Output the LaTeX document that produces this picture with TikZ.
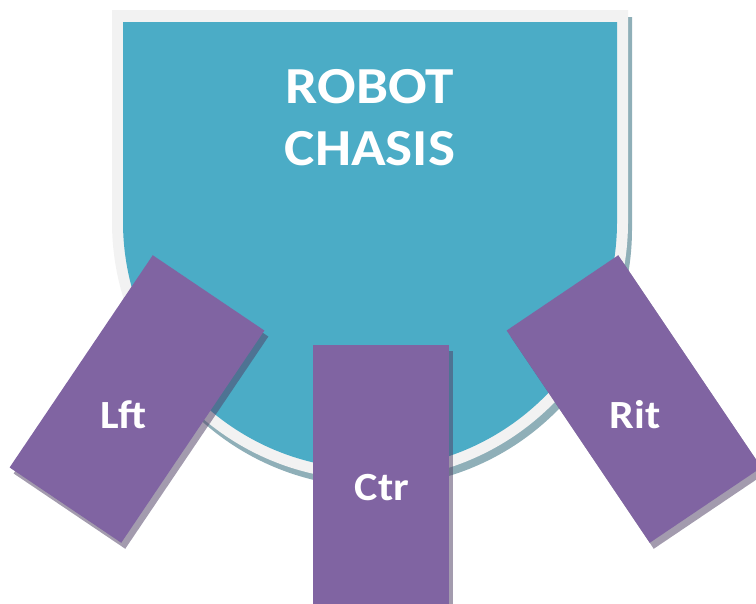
\documentclass[tikz,border=0pt]{standalone}
\usepackage{fontspec}
\setmainfont{Carlito}[FakeStretch=1.1]
\usepackage{tikz}
\usetikzlibrary{positioning}
\definecolor{chasisblue}{HTML}{4BACC6}
\definecolor{chasisrim}{HTML}{F2F2F2}
\definecolor{chasisshade}{HTML}{8FAFB8}
\definecolor{wheelpurple}{HTML}{8064A2}
\definecolor{wheelshade}{HTML}{514266}

\begin{document}
\begin{tikzpicture}[x=0.75pt,y=0.75pt]
\tikzstyle{every node}+=[inner sep=0pt]
\tikzstyle{wheel}=[fill=wheelpurple, minimum width=101pt, minimum height=192pt]
\tikzstyle{wheelshadow}=[fill=wheelshade, opacity=0.53, minimum width=101pt, minimum height=192pt]
\tikzstyle{wheellabel}=[text=white, font=\fontsize{30}{36}\selectfont\bfseries]
\tikzstyle{chasislabel}=[text=white, align=center, font=\fontsize{39}{46.5}\selectfont\bfseries]
\clip (0,0) rectangle (756,-603);
% chasis with rim and shadow
\fill [chasisshade] (116,-229) -- (116,-17) -- (632,-17) -- (632,-229) arc (0:-180:258) -- cycle;
\fill [chasisrim] (112,-222) -- (112,-10) -- (628,-10) -- (628,-222) arc (0:-180:258) -- cycle;
\fill [chasisblue] (123,-222) -- (123,-22) -- (617,-22) -- (617,-222) arc (0:-180:247) -- cycle;
\node [chasislabel] (title) at (370,-118) {ROBOT\\CHASIS};
% left wheel
\node [wheelshadow, rotate=-34] (lftshadow) at (141,-405) {};
\node [wheel, rotate=-34] (lft) at (137,-399) {};
\node [wheellabel] (lfttext) at (123,-415) {Lft};
% centre wheel
\node [wheelshadow, minimum width=102pt, minimum height=210pt] (ctrshadow) at (385,-491) {};
\node [wheel, minimum width=102pt, minimum height=210pt] (ctr) at (381,-485) {};
\node [wheellabel] (ctrtext) at (382,-487.5) {Ctr};
% right wheel
\node [wheelshadow, rotate=34] (ritshadow) at (638,-405) {};
\node [wheel, rotate=34] (rit) at (634,-399) {};
\node [wheellabel] (rittext) at (635,-415) {Rit};
\end{tikzpicture}
\end{document}
